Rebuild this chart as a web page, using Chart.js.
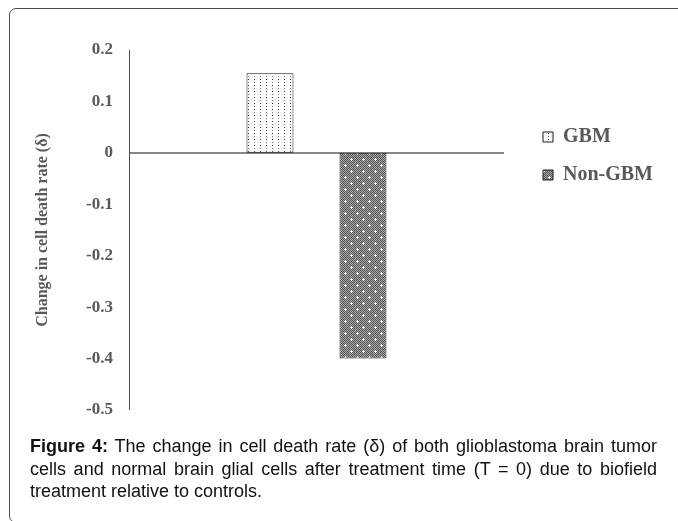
<!DOCTYPE html>
<html>
<head>
<meta charset="utf-8">
<script src="https://cdn.jsdelivr.net/npm/chart.js@4"></script>
<style>
  html, body { margin: 0; padding: 0; background: #fff; width: 678px; height: 521px; overflow: hidden; }
  #frame { position: absolute; left: 9px; top: 8px; width: 720px; height: 515px; border: 1px solid #4d4d4d; border-radius: 7px; box-sizing: border-box; }
  #c { position: absolute; left: 0; top: 0; }
  #caption { position: absolute; left: 30px; top: 435px; width: 627px; font-family: "Liberation Sans", Arial, sans-serif; font-size: 18px; line-height: 22.5px; color: #111; }
  #caption .j { text-align: justify; text-align-last: justify; }
</style>
</head>
<body>
<div id="frame"></div>
<canvas id="c" width="678" height="521"></canvas>
<div id="caption">
  <div class="j"><b>Figure 4:</b> The change in cell death rate (δ) of both glioblastoma brain tumor</div>
  <div class="j">cells and normal brain glial cells after treatment time (T = 0) due to biofield</div>
  <div>treatment relative to controls.</div>
</div>
<script>
const categories = [''];
const seriesNames = ['GBM', 'Non-GBM'];
const gbmValues = [0.155];
const nonGbmValues = [-0.40];
const yTickValues = [0.2, 0.1, 0, -0.1, -0.2, -0.3, -0.4, -0.5];
const yTickLabels = ['0.2', '0.1', '0', '-0.1', '-0.2', '-0.3', '-0.4', '-0.5'];
const yAxisTitle = 'Change in cell death rate (δ)';

const canvas = document.getElementById('c');
const ctx = canvas.getContext('2d');

function makeTile(w, h, draw) {
  const t = document.createElement('canvas');
  t.width = w; t.height = h;
  const g = t.getContext('2d');
  draw(g);
  return ctx.createPattern(t, 'repeat');
}
const dotPattern = makeTile(6, 6, g => {
  g.fillStyle = '#ffffff'; g.fillRect(0, 0, 6, 6);
  g.fillStyle = '#2a2a2a'; g.fillRect(2, 1, 1, 1);
  g.fillStyle = '#777777'; g.fillRect(2, 4, 1, 1);
});
const checkPattern = makeTile(12, 12, g => {
  for (let y = 0; y < 12; y++) for (let x = 0; x < 12; x++) {
    g.fillStyle = ((x + y) % 2 === 0) ? '#555555' : '#a8a8a8';
    g.fillRect(x, y, 1, 1);
  }
  g.fillStyle = '#f4f4f4';
  [[3, 3], [9, 9]].forEach(([cx, cy]) => {
    g.fillRect(cx, cy, 1, 1); g.fillRect(cx - 1, cy, 1, 1); g.fillRect(cx + 1, cy, 1, 1);
    g.fillRect(cx, cy - 1, 1, 1); g.fillRect(cx, cy + 1, 1, 1);
  });
});

const legendPlace = {
  id: 'legendPlace',
  afterLayout(chart) {
    const lg = chart.legend;
    if (!lg) return;
    lg.left = 525; lg.right = 678; lg.width = 153;
    lg.top = 109; lg.bottom = 521; lg.height = 412;
  }
};

const textGray = '#595959';
new Chart(ctx, {
  type: 'bar',
  data: {
    labels: categories,
    datasets: [
      { label: seriesNames[0], data: gbmValues, backgroundColor: dotPattern, borderColor: '#1a1a1a', borderWidth: 1, borderSkipped: false },
      { label: seriesNames[1], data: nonGbmValues, backgroundColor: checkPattern, borderColor: '#1a1a1a', borderWidth: 1, borderSkipped: false }
    ]
  },
  options: {
    responsive: false,
    animation: false,
    devicePixelRatio: 1,
    categoryPercentage: 0.496,
    barPercentage: 0.505,
    layout: { padding: { left: 0, top: 50, bottom: 111, right: 74 } },
    plugins: {
      tooltip: { enabled: false },
      legend: {
        position: 'right',
        align: 'start',
        maxWidth: 100,
        labels: {
          boxWidth: 10, boxHeight: 10, padding: 18,
          color: textGray,
          font: { family: '"Liberation Serif", "Times New Roman", serif', size: 20, weight: 'bold' }
        }
      }
    },
    scales: {
      x: { display: false },
      y: {
        min: -0.5, max: 0.2,
        afterFit(scale) { scale.width = 129; },
        ticks: {
          stepSize: 0.1,
          padding: 16,
          color: textGray,
          font: { family: '"Liberation Serif", "Times New Roman", serif', size: 17, weight: 'bold' },
          callback(v) {
            const i = yTickValues.findIndex(t => Math.abs(t - v) < 1e-9);
            return i >= 0 ? yTickLabels[i] : '';
          }
        },
        grid: {
          drawTicks: false,
          color: c => (c.tick && Math.abs(c.tick.value) < 1e-9) ? '#878787' : 'rgba(0,0,0,0)',
          lineWidth: c => (c.tick && Math.abs(c.tick.value) < 1e-9) ? 2 : 0
        },
        border: { display: true, color: '#4a4a4a', width: 1 },
        title: {
          display: true,
          text: yAxisTitle,
          color: textGray,
          padding: { top: 33, bottom: 0 },
          font: { family: '"Liberation Serif", "Times New Roman", serif', size: 16, weight: 'bold' }
        }
      }
    }
  },
  plugins: [legendPlace]
});
</script>
</body>
</html>
